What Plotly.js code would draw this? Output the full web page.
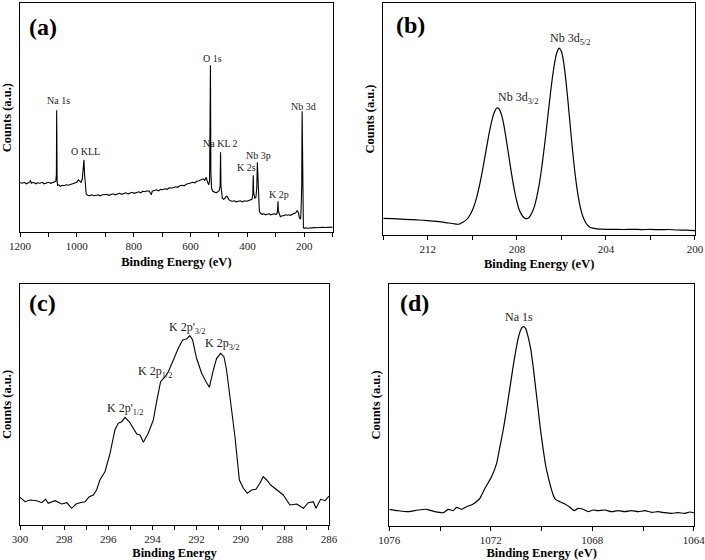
<!DOCTYPE html>
<html>
<head>
<meta charset="utf-8">
<script src="https://cdn.plot.ly/plotly-3.0.1.min.js"></script>
<style>html,body{margin:0;padding:0;background:#fff;}#chart{width:705px;height:560px;}</style>
</head>
<body>
<div id="chart"></div>
<script>
// (a) survey spectrum
const surveyE = [1200,1192,1185,1178,1170,1163,1160,1152,1145,1138,1130,1122,1115,1108,1100,1092,1085,1078,1074,1072,1071,1069.5,1068,1064,1058,1052,1045,1038,1030,1022,1015,1008,1000,995,990,985,981,978,975,973,970,967,962,955,948,940,932,925,918,910,902,895,888,880,872,865,858,850,842,835,828,820,812,805,798,790,782,775,768,760,752,745,738,735,728,720,712,705,698,690,682,675,668,660,652,645,638,630,622,615,608,600,592,585,578,570,563,556,550,545,540,536,533,531,530,528.5,526,522,516,510,504,499,496,494.5,493,491,488,484,479,474,470,466,460,453,446,440,432,425,418,410,402,395,389,384,381,379.5,378,374,370,367,365,363,361,358,354,348,342,336,330,324,318,312,306,300,296,294,292.5,291,288,284,278,272,266,260,254,248,242,236,230,225,221,217,213,211,209,207.5,206,204.5,203,200,195,188,180,172,165,158,150,142,135,128,120,112,105,100];
const surveyCounts = [49.5,49,50,48.5,49.5,51.5,49,50,48.5,49.5,49,50,48.5,49.5,50,49,49.5,50.5,51,58,122,52,47,47.5,46,47,46.5,47.5,47,48,48.5,49.5,50,52.5,51,50,53,60,72.5,58,46,38,37,36.5,37.5,36.5,37,37.5,36.5,37.5,37.5,38,37,38,38.5,37.5,38.5,39,38,39,39.5,38.5,39.5,40,39,40,40.5,39.5,41,40.5,41.5,41,37.5,41,42,42.5,41.5,43,42.5,43.5,43,44.5,44,45,45.5,45,46.5,47,46.5,48,48.5,49,50,49.5,51,51.5,52.5,53.5,52,55,50,47.5,52,100,167,60,44,41,40,39.5,40.5,42,46,80,46,38,34,33,34,36,35.5,33,31.5,31,31.5,30.5,31,31.5,30.5,31.5,31,31.5,32,33,38,57,40,34,35,45,70,52,38,21,19,18,18.5,17.5,18,18.5,17.5,18,18.5,18,18.5,22,31,21,18,15.5,16.5,16.5,17.5,17,17.5,17,18,18.5,19.5,21.5,20,14.5,13,24,46,121,60,10,4.5,4,4.5,4,4.5,4.3,4.7,4.5,4.8,4.6,5,4.8,5,5.2,5,5.2];

// (b) Nb 3d
const nbE = [214.0,213.6,213.2,212.8,212.4,212.0,211.6,211.2,210.8,210.6,210.5,210.4,210.3,210.2,210.1,210.0,209.9,209.8,209.7,209.6,209.5,209.4,209.3,209.2,209.1,209.0,208.9,208.8,208.7,208.6,208.5,208.4,208.3,208.2,208.1,208.0,207.9,207.8,207.7,207.6,207.5,207.4,207.3,207.2,207.1,207.0,206.9,206.8,206.7,206.6,206.5,206.4,206.3,206.2,206.1,206.0,205.9,205.8,205.7,205.6,205.5,205.4,205.3,205.2,205.1,205.0,204.9,204.8,204.7,204.6,204.4,204.2,204.0,203.6,203.2,202.8,202.4,202.0,201.6,201.2,200.8,200.4,200.0];
const nbCounts = [16.7,16.3,15.8,15.4,15.0,14.4,13.6,12.4,11.2,10.8,12.0,13.1,14.6,16.9,20.2,24.7,30.6,38.2,47.5,58.2,70.2,82.7,95.2,106.8,116.4,123.4,127,126,120.9,111.6,98.7,84.5,69.7,55.8,43.5,33.5,25.5,20.9,17.7,16.4,16.8,19.2,23.6,29.4,38.7,50.1,64.9,82,100.5,120.7,140,158,172.6,182.7,186.8,183.6,172.6,154.8,132.5,108.4,85,64,46.7,33.2,23.2,16.5,12,9.2,7.5,6.8,6.2,5.9,5.7,5.6,5.5,5.7,5.4,5.6,5.3,5.5,5.0,4.9,4.4];

// (c) K 2p
const kE = [300,299.77,299.55,299.24,299.02,298.84,298.72,298.41,298.11,297.88,297.66,297.46,297.28,297.05,296.86,296.68,296.53,296.38,296.15,295.92,295.70,295.55,295.39,295.24,295.02,294.71,294.56,294.41,294.19,293.96,293.81,293.63,293.43,293.28,293.05,292.83,292.63,292.45,292.30,292.18,292.0,291.77,291.57,291.42,291.24,291.09,290.91,290.76,290.64,290.49,290.26,290.06,289.88,289.70,289.50,289.31,289.13,288.98,288.82,288.64,288.37,288.07,287.77,287.46,287.16,286.94,286.71,286.59,286.38,286.18,286];
const kCounts = [27.7,23.3,25,24.3,22.3,25.7,21.7,24.3,21,22.3,16.7,21,22.3,23.3,28.3,30,35,45,53.3,71.7,95,101.7,103.3,107.7,102.3,91,90,82.7,91.7,105,123.3,143.3,148.3,153.3,165,176.7,185,186,189.3,185,166.7,151.7,143.3,137.7,155,166.7,171.7,168.3,155,128.3,88.3,45,36.7,31.7,35,35.7,41.7,48.3,45,40,35,30,20,21,16.7,22.3,23.3,16.7,25.7,24.3,29];

// (d) Na 1s
const naE = [1076.0,1075.65,1075.25,1074.86,1074.53,1074.2,1073.87,1073.68,1073.48,1073.35,1073.15,1072.95,1072.69,1072.49,1072.43,1072.23,1071.97,1071.77,1071.64,1071.51,1071.38,1071.25,1071.12,1071.01,1070.92,1070.81,1070.72,1070.63,1070.53,1070.42,1070.33,1070.23,1070.13,1070.04,1069.93,1069.84,1069.74,1069.64,1069.54,1069.45,1069.28,1069.08,1068.88,1068.71,1068.56,1068.36,1068.16,1067.97,1067.77,1067.5,1067.24,1066.98,1066.72,1066.45,1066.19,1065.93,1065.66,1065.41,1065.14,1064.88,1064.62,1064.35,1064.16,1064.0];
const naCounts = [16.7,15.3,14.3,16,16.7,14.3,13.3,16.7,15.3,18.7,16.7,19.3,22,26,27.7,37.7,49.3,62.7,79.3,96,116,137.7,159.3,176,187.7,196.7,199.3,197.7,189.3,176,159.3,137.7,116,96,76,61,49.3,39.3,31,26.7,24.3,22,18.7,15.3,17.7,16.7,14.3,16,15.3,16,14.3,15.3,14.3,15.3,14.3,15.3,13.7,14.3,13.3,12.7,13.3,12.7,14,13.3];

const serif = "'Liberation Serif', 'Times New Roman', serif";
const lineStyle = {color: '#000', width: 1.1};

const traces = [
  {x: surveyE, y: surveyCounts, xaxis: 'x', yaxis: 'y', type: 'scatter', mode: 'lines', line: lineStyle, hoverinfo: 'skip'},
  {x: nbE, y: nbCounts, xaxis: 'x2', yaxis: 'y2', type: 'scatter', mode: 'lines', line: {color: '#000', width: 1.2, shape: 'spline'}, hoverinfo: 'skip'},
  {x: kE, y: kCounts, xaxis: 'x3', yaxis: 'y3', type: 'scatter', mode: 'lines', line: lineStyle, hoverinfo: 'skip'},
  {x: naE, y: naCounts, xaxis: 'x4', yaxis: 'y4', type: 'scatter', mode: 'lines', line: {color: '#000', width: 1.2, shape: 'spline', smoothing: 0.6}, hoverinfo: 'skip'}
];

function xax(domain, range, dtick, minorDtick, titleText) {
  return {
    domain: domain, range: range, dtick: dtick, tick0: 0,
    ticks: 'outside', ticklen: 4, tickwidth: 1, tickcolor: '#000',
    minor: {ticks: 'outside', ticklen: 4, tickwidth: 1, tickcolor: '#000', dtick: minorDtick, tick0: 0},
    showline: true, linecolor: '#000', linewidth: 1, mirror: true,
    showgrid: false, zeroline: false,
    ticklabeloverflow: 'allow',
    tickfont: {family: serif, size: 11, color: '#222'},
    title: {text: '<b>' + titleText + '</b>', font: {family: serif, size: 12.5, color: '#000'}, standoff: 5},
    fixedrange: true
  };
}
function yax(domain, range) {
  return {
    domain: domain, range: range, showticklabels: false, ticks: '',
    showline: true, linecolor: '#000', linewidth: 1, mirror: true,
    showgrid: false, zeroline: false,
    title: {text: '<b>Counts (a.u.)</b>', font: {family: serif, size: 12.5, color: '#000'}, standoff: 4},
    fixedrange: true
  };
}

function lab(text, x, y, xr, yr, size, bold) {
  return {text: bold ? '<b>' + text + '</b>' : text, x: x, y: y, xref: xr, yref: yr,
    showarrow: false, xanchor: 'center', yanchor: 'middle',
    font: {family: serif, size: size, color: bold ? '#000' : '#222'}};
}

const annotations = [
  lab('(a)', 1119, 205, 'x', 'y', 24, true),
  lab('Na 1s', 1065, 131.6, 'x', 'y', 10, false),
  lab('O KLL', 969, 80.6, 'x', 'y', 10, false),
  lab('O 1s', 523.6, 174, 'x', 'y', 10, false),
  lab('Na KL 2', 494, 89, 'x', 'y', 10, false),
  lab('Nb 3p', 361.8, 77, 'x', 'y', 10, false),
  lab('K 2s', 402.6, 64.6, 'x', 'y', 10, false),
  lab('K 2p', 288, 38, 'x', 'y', 10, false),
  lab('Nb 3d', 203.5, 125.6, 'x', 'y', 10, false),

  lab('(b)', 212.8, 210, 'x2', 'y2', 24, true),
  lab('Nb 3d<sub>3/2</sub>', 207.95, 137, 'x2', 'y2', 12, false),
  lab('Nb 3d<sub>5/2</sub>', 205.63, 196, 'x2', 'y2', 12, false),

  lab('(c)', 298.97, 221.7, 'x3', 'y3', 24, true),
  lab("K 2p'<sub>1/2</sub>", 295.2, 115.5, 'x3', 'y3', 12, false),
  lab('K 2p<sub>1/2</sub>', 293.88, 153, 'x3', 'y3', 12, false),
  lab("K 2p'<sub>3/2</sub>", 292.41, 197, 'x3', 'y3', 12, false),
  lab('K 2p<sub>3/2</sub>', 290.86, 180.5, 'x3', 'y3', 12, false),

  lab('(d)', 1074.99, 222.7, 'x4', 'y4', 24, true),
  lab('Na 1s', 1070.89, 208.7, 'x4', 'y4', 12, false)
];

const layout = {
  width: 705, height: 560,
  margin: {l: 0, r: 0, t: 0, b: 0},
  paper_bgcolor: '#fff', plot_bgcolor: '#fff',
  showlegend: false,
  xaxis: xax([0.02837, 0.4719], [1200, 99.99], 200, 100, 'Binding Energy (eV)'),
  yaxis: yax([0.5852, 0.99464], [0, 229.3]),
  xaxis2: xax([0.5437, 0.9858], [214, 199.999], 4, 2, 'Binding Energy (eV)'),
  yaxis2: yax([0.58036, 0.99464], [0, 232]),
  xaxis3: xax([0.02837, 0.46667], [300, 285.999], 2, 1, 'Binding Energy'),
  yaxis3: yax([0.0625, 0.49286], [0, 241]),
  xaxis4: xax([0.5522, 0.9844], [1076, 1063.99], 4, 2, 'Binding Energy (eV)'),
  yaxis4: yax([0.06071, 0.49286], [0, 242]),
  annotations: annotations
};
layout.xaxis.anchor = 'y'; layout.yaxis.anchor = 'x';
layout.xaxis2.anchor = 'y2'; layout.yaxis2.anchor = 'x2';
layout.xaxis3.anchor = 'y3'; layout.yaxis3.anchor = 'x3';
layout.xaxis4.anchor = 'y4'; layout.yaxis4.anchor = 'x4';

Plotly.newPlot('chart', traces, layout, {staticPlot: true, displayModeBar: false});
</script>
</body>
</html>
